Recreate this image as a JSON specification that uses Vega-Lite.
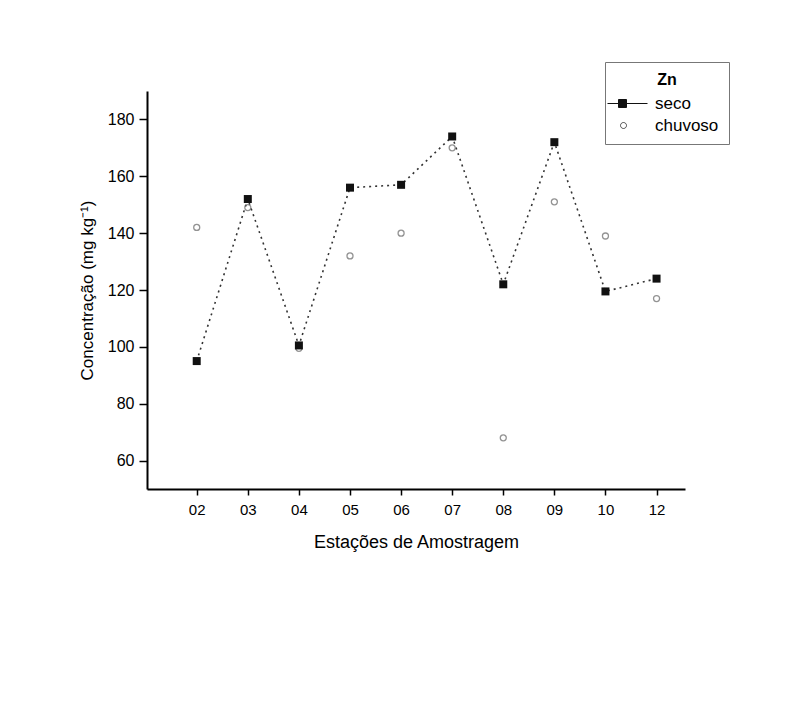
{
  "$schema": "https://vega.github.io/schema/vega-lite/v6.json",
  "width": 538,
  "height": 398,
  "autosize": {"type": "none"},
  "padding": {"left": 147, "top": 91, "right": 107, "bottom": 213},
  "background": "white",
  "config": {"view": {"stroke": null}, "font": "Liberation Sans"},
  "data": {
    "values": [
      {"estacao": "02", "periodo": "seco", "valor": 95},
      {"estacao": "03", "periodo": "seco", "valor": 152},
      {"estacao": "04", "periodo": "seco", "valor": 100.5},
      {"estacao": "05", "periodo": "seco", "valor": 156},
      {"estacao": "06", "periodo": "seco", "valor": 157},
      {"estacao": "07", "periodo": "seco", "valor": 174},
      {"estacao": "08", "periodo": "seco", "valor": 122},
      {"estacao": "09", "periodo": "seco", "valor": 172},
      {"estacao": "10", "periodo": "seco", "valor": 119.5},
      {"estacao": "12", "periodo": "seco", "valor": 124},
      {"estacao": "02", "periodo": "chuvoso", "valor": 142},
      {"estacao": "03", "periodo": "chuvoso", "valor": 149},
      {"estacao": "04", "periodo": "chuvoso", "valor": 99.5},
      {"estacao": "05", "periodo": "chuvoso", "valor": 132},
      {"estacao": "06", "periodo": "chuvoso", "valor": 140},
      {"estacao": "07", "periodo": "chuvoso", "valor": 170},
      {"estacao": "08", "periodo": "chuvoso", "valor": 68},
      {"estacao": "09", "periodo": "chuvoso", "valor": 151},
      {"estacao": "10", "periodo": "chuvoso", "valor": 139},
      {"estacao": "12", "periodo": "chuvoso", "valor": 117}
    ]
  },
  "encoding": {
    "x": {
      "field": "estacao",
      "type": "ordinal",
      "sort": null,
      "scale": {"type": "point", "padding": 0.765, "align": 0.636},
      "axis": {
        "title": "Estações de Amostragem",
        "titleFontSize": 18,
        "titleFontWeight": "normal",
        "titleColor": "#000",
        "titlePadding": 16,
        "labelFontSize": 15,
        "labelColor": "#000",
        "labelAngle": 0,
        "labelPadding": 7,
        "tickSize": 6,
        "tickWidth": 1.5,
        "tickColor": "#000",
        "domainWidth": 2,
        "domainColor": "#000",
        "grid": false
      }
    },
    "y": {
      "field": "valor",
      "type": "quantitative",
      "scale": {"domain": [50, 190], "nice": false, "zero": false},
      "axis": {
        "title": "Concentração (mg kg⁻¹)",
        "titleFontSize": 17,
        "titleFontWeight": "normal",
        "titleColor": "#000",
        "titlePadding": 11,
        "values": [60, 80, 100, 120, 140, 160, 180],
        "labelFontSize": 16,
        "labelColor": "#000",
        "labelPadding": 5,
        "tickSize": 8,
        "tickWidth": 1.5,
        "tickColor": "#000",
        "domainWidth": 2,
        "domainColor": "#000",
        "grid": false
      }
    }
  },
  "layer": [
    {
      "transform": [{"filter": "datum.periodo === 'seco'"}],
      "mark": {"type": "line", "color": "#333", "strokeDash": [2, 4], "strokeWidth": 1.6}
    },
    {
      "transform": [{"filter": "datum.periodo === 'chuvoso'"}],
      "mark": {"type": "point", "shape": "circle", "filled": false, "color": "#666", "size": 36, "strokeWidth": 1.3}
    },
    {
      "transform": [{"filter": "datum.periodo === 'seco'"}],
      "mark": {"type": "square", "color": "#111", "size": 64, "opacity": 1}
    },
    {
      "mark": {"type": "point", "opacity": 0, "size": 576, "filled": true, "strokeWidth": 1},
      "encoding": {
        "shape": {
          "field": "periodo",
          "type": "nominal",
          "scale": {
            "domain": ["seco", "chuvoso"],
            "range": ["M-1.667,0H1.667M-0.75,-0.333H-0.083V0.333H-0.75Z", "M-0.083,0A0.25,0.25,0,1,1,-0.583,0A0.25,0.25,0,1,1,-0.083,0Z"]
          },
          "legend": {
            "title": "Zn", "orient": "none", "legendX": 458, "legendY": -29,
            "titleFontSize": 16, "titleFontWeight": "bold", "titleColor": "#000", "titleAnchor": "middle", "titlePadding": 3,
            "labelFontSize": 17, "labelColor": "#000", "labelOffset": 15,
            "symbolSize": 576, "symbolOpacity": 1, "symbolStrokeWidth": 1,
            "rowPadding": 1, "padding": 10, "strokeColor": "#777", "fillColor": "white"
          }
        },
        "fill": {
          "field": "periodo",
          "type": "nominal",
          "scale": {"domain": ["seco", "chuvoso"], "range": ["#111", "white"]},
          "legend": {
            "title": "Zn", "orient": "none", "legendX": 458, "legendY": -29,
            "titleFontSize": 16, "titleFontWeight": "bold", "titleColor": "#000", "titleAnchor": "middle", "titlePadding": 3,
            "labelFontSize": 17, "labelColor": "#000", "labelOffset": 15,
            "symbolSize": 576, "symbolOpacity": 1, "symbolStrokeWidth": 1,
            "rowPadding": 1, "padding": 10, "strokeColor": "#777", "fillColor": "white"
          }
        },
        "stroke": {
          "field": "periodo",
          "type": "nominal",
          "scale": {"domain": ["seco", "chuvoso"], "range": ["#111", "#444"]},
          "legend": {
            "title": "Zn", "orient": "none", "legendX": 458, "legendY": -29,
            "titleFontSize": 16, "titleFontWeight": "bold", "titleColor": "#000", "titleAnchor": "middle", "titlePadding": 3,
            "labelFontSize": 17, "labelColor": "#000", "labelOffset": 15,
            "symbolSize": 576, "symbolOpacity": 1, "symbolStrokeWidth": 1,
            "rowPadding": 1, "padding": 10, "strokeColor": "#777", "fillColor": "white"
          }
        }
      }
    }
  ]
}
